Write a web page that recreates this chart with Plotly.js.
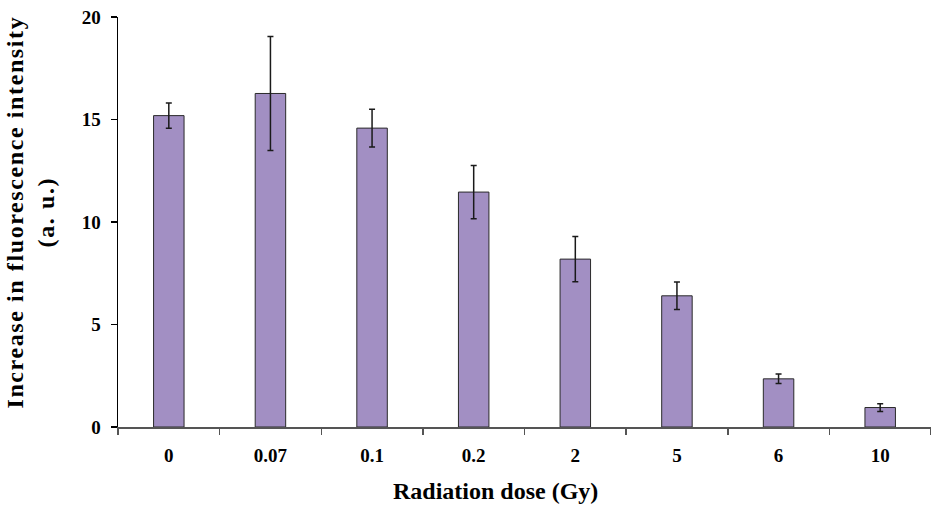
<!DOCTYPE html>
<html>
<head>
<meta charset="utf-8">
<script src="https://cdn.plot.ly/plotly-3.0.1.min.js"></script>
<style>html,body{margin:0;padding:0;background:#fff;}#chart{width:931px;height:505px;}</style>
</head>
<body>
<div id="chart"></div>
<script>
const doses = ["0", "0.07", "0.1", "0.2", "2", "5", "6", "10"];
const intensity = [15.19, 16.27, 14.58, 11.46, 8.19, 6.40, 2.35, 0.95];
const errors = [0.62, 2.78, 0.92, 1.30, 1.10, 0.67, 0.23, 0.19];
const yTicks = [0, 5, 10, 15, 20];

const serif = "Liberation Serif, Times New Roman, serif";

const trace = {
  type: "bar",
  x: doses,
  y: intensity,
  marker: {color: "#A28FC3", line: {color: "#2a2a2a", width: 1}},
  error_y: {type: "data", array: errors, visible: true, color: "#1a1a1a", thickness: 1.5, width: 3},
  hoverinfo: "skip"
};

const layout = {
  width: 931, height: 505,
  margin: {l: 118, r: 0, t: 17, b: 78},
  paper_bgcolor: "#fff", plot_bgcolor: "#fff",
  showlegend: false,
  bargap: 0.7,
  xaxis: {
    type: "category",
    showline: true, linecolor: "#555", linewidth: 1.5,
    ticks: "outside", tickson: "boundaries", ticklen: 6, tickcolor: "#555", tickwidth: 1.5,
    tickfont: {family: serif, size: 19, color: "#000", weight: "bold"},
    ticklabelstandoff: 11,
    showgrid: false, zeroline: false
  },
  yaxis: {
    range: [0, 20],
    tickvals: yTicks,
    ticktext: yTicks.map(String),
    showline: true, linecolor: "#000", linewidth: 1.5,
    ticks: "outside", ticklen: 6, tickcolor: "#000", tickwidth: 1.5,
    tickfont: {family: serif, size: 19, color: "#000", weight: "bold"},
    ticklabelstandoff: 6,
    showgrid: false, zeroline: false
  },
  annotations: [
    {text: "<b>Radiation dose (Gy)</b>", xref: "paper", yref: "paper", x: (495 - 118) / 813, y: -0.155,
     xanchor: "center", yanchor: "middle", showarrow: false, font: {family: serif, size: 24, color: "#000"}},
    {text: "<b>Increase in fluorescence intensity<br>(a. u.)</b>", xref: "paper", yref: "paper",
     x: -0.108, y: 0.524, xanchor: "center", yanchor: "middle", textangle: -90, showarrow: false,
     font: {family: serif, size: 24, color: "#000"}}
  ]
};

Plotly.newPlot("chart", [trace], layout, {displayModeBar: false, staticPlot: true}).then(function (gd) {
  const txt = gd.querySelectorAll(".annotation-text");
  if (txt.length > 1) txt[1].style.letterSpacing = "1.6px";
});
</script>
</body>
</html>
